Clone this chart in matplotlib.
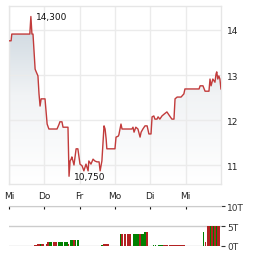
import matplotlib
matplotlib.use("Agg")
import matplotlib.pyplot as plt
import numpy as np
from matplotlib.colors import LinearSegmentedColormap

# price path, time in trading days since first "Mi"
t = [0.00, 0.06, 0.08, 0.59, 0.62, 0.65, 0.68, 0.74, 0.76, 0.82, 0.85, 0.88, 0.91, 0.96,
     1.02, 1.08, 1.13, 1.36, 1.42, 1.44, 1.50, 1.53, 1.67, 1.70, 1.73, 1.76, 1.78, 1.84,
     1.90, 1.95, 2.01, 2.07, 2.12, 2.18, 2.24, 2.26, 2.32, 2.38, 2.43, 2.49, 2.55, 2.58,
     2.63, 2.69, 2.72, 2.75, 2.77, 3.00, 3.03, 3.09, 3.11, 3.17, 3.20, 3.48, 3.51, 3.54,
     3.59, 3.65, 3.71, 3.74, 3.79, 3.85, 3.91, 3.96, 4.02, 4.05, 4.10, 4.13, 4.19, 4.22,
     4.27, 4.33, 4.39, 4.47, 4.53, 4.61, 4.67, 4.70, 4.76, 4.81, 4.87, 4.95, 4.98, 5.38,
     5.41, 5.49, 5.55, 5.66, 5.69, 5.72, 5.77, 5.83, 5.86, 5.88, 5.91, 5.94, 5.97, 6.00]
price = [13.76, 13.76, 13.91, 13.91, 14.30, 13.91, 13.91, 13.13, 13.09, 12.98, 12.58, 12.31, 12.47, 12.47,
         12.47, 11.91, 11.80, 11.80, 11.91, 11.96, 11.96, 11.84, 11.84, 10.75, 11.09, 11.13, 11.18, 11.00,
         11.36, 11.36, 11.02, 10.98, 10.87, 11.02, 10.87, 11.09, 11.02, 11.13, 11.09, 11.07, 11.07, 10.87,
         11.09, 11.87, 11.80, 11.58, 11.36, 11.36, 11.62, 11.64, 11.67, 11.91, 11.80, 11.80, 11.84, 11.73,
         11.84, 11.80, 11.62, 11.73, 11.80, 11.87, 11.87, 11.69, 11.69, 12.07, 12.09, 12.02, 12.02, 12.07,
         12.02, 12.09, 12.13, 12.18, 12.11, 12.02, 12.02, 12.47, 12.51, 12.51, 12.51, 12.58, 12.69, 12.69,
         12.76, 12.76, 12.64, 12.64, 12.91, 12.76, 12.91, 12.84, 13.02, 13.07, 12.91, 12.98, 12.91, 12.69]

days = ["Mi", "Do", "Fr", "Mo", "Di", "Mi"]
price_ticks = [11, 12, 13, 14]

# volume bars: start, end (days), volume in thousands, up day?
vol_start = [0.71, 0.79, 0.88, 0.91, 1.05, 1.08, 1.13, 1.25, 1.39, 1.56, 1.67, 1.73, 1.81, 1.87,
             1.93, 1.96, 2.60, 2.66, 3.14, 3.17, 3.26, 3.34, 3.51, 3.54, 3.68, 3.74, 3.82, 3.88,
             4.08, 4.13, 4.22, 4.36, 4.53, 5.49, 5.55, 5.60, 5.69, 5.72, 5.77, 5.80, 5.86, 5.89]
vol_end = [0.79, 0.88, 0.91, 0.99, 1.08, 1.13, 1.22, 1.36, 1.53, 1.67, 1.70, 1.81, 1.87, 1.90,
           1.95, 1.98, 2.66, 2.83, 3.17, 3.23, 3.31, 3.45, 3.54, 3.68, 3.74, 3.82, 3.88, 3.93,
           4.10, 4.16, 4.36, 4.50, 4.98, 5.52, 5.58, 5.69, 5.72, 5.77, 5.80, 5.86, 5.89, 5.97]
vol = [0.3, 0.6, 0.6, 0.6, 0.4, 1.0, 1.0, 1.0, 1.0, 1.0, 0.6, 1.5, 1.5, 1.5,
       1.5, 1.5, 0.3, 0.6, 3.0, 3.0, 3.0, 3.0, 3.0, 3.0, 3.0, 3.0, 3.5, 3.5,
       0.2, 0.2, 0.25, 0.25, 0.25, 3.5, 1.0, 5.0, 5.0, 5.0, 5.0, 5.0, 5.0, 5.0]
vol_up = [0, 0, 1, 0, 0, 0, 1, 0, 1, 1, 0, 1, 0, 1,
          1, 1, 1, 0, 1, 0, 0, 0, 1, 1, 0, 1, 1, 0,
          1, 1, 1, 0, 0, 1, 0, 0, 1, 0, 1, 0, 1, 0]
vol_ticks = [0, 5, 10]
vol_labels = ["0T", "5T", "10T"]

fs = 6.5
fig = plt.figure(figsize=(2.64, 2.55), dpi=100)
ax = fig.add_axes([0.034, 0.2745, 0.803, 0.698])
ax2 = fig.add_axes([0.034, 0.0314, 0.803, 0.155])

ymin, ymax = 10.578, 14.533

# gradient fill below the price line
poly = ax.fill_between(t, price, ymin, color="none", lw=0)
cmap = LinearSegmentedColormap.from_list("g", ["#ffffff", "#f1f3f5", "#c6d2db"])
grad = np.linspace(0, 1, 256).reshape(-1, 1)
im = ax.imshow(grad, extent=[0, 6, ymin, ymax], origin="lower", aspect="auto",
               cmap=cmap, zorder=0.5)
im.set_clip_path(poly.get_paths()[0], transform=ax.transData)

ax.plot(t, price, color="#c23b3b", lw=1.0, zorder=3)

imax = int(np.argmax(price))
imin = int(np.argmin(price))
ax.annotate(f"{price[imax]:.3f}".replace(".", ","), (t[imax], price[imax]),
            xytext=(5, 0), textcoords="offset pixels", va="center", ha="left",
            fontsize=fs, color="#111111", zorder=4)
ax.annotate(f"{price[imin]:.3f}".replace(".", ","), (t[imin], price[imin]),
            xytext=(5, 0), textcoords="offset pixels", va="center", ha="left",
            fontsize=fs, color="#111111", zorder=4)

ax.set_xlim(0, 6)
ax.set_ylim(ymin, ymax)
ax.set_xticks(range(len(days)))
ax.set_xticklabels(days)
ax.set_yticks(price_ticks)
ax.yaxis.tick_right()
ax.tick_params(axis="both", length=0, labelsize=fs, colors="#222222")
ax.tick_params(axis="x", pad=5)
ax.tick_params(axis="y", pad=4)
ax.set_axisbelow("line")
ax.grid(True, color="#ebebeb", lw=1)
for s in ax.spines.values():
    s.set_color("#e6e6e6")
    s.set_linewidth(1)

# volume panel
for s0, s1, v, up in zip(vol_start, vol_end, vol, vol_up):
    ax2.bar(s0, v, width=s1 - s0, align="edge", lw=0,
            color="#008000" if up else "#b22222", zorder=2)
ax2.set_xlim(0, 6)
ax2.set_ylim(0, 10)
ax2.set_yticks(vol_ticks)
ax2.set_yticklabels(vol_labels)
ax2.yaxis.tick_right()
ax2.xaxis.tick_top()
ax2.set_xticks(range(len(days)))
ax2.tick_params(axis="x", direction="in", length=2.5, width=0.8, colors="#111111",
                labeltop=False, labelbottom=False)
ax2.tick_params(axis="y", length=3, width=0.8, pad=1.5, labelsize=fs,
                colors="#333333")
ax2.grid(True, axis="y", color="#cccccc", lw=1, zorder=1)
ax2.set_axisbelow(True)
for k in ["left", "right", "bottom"]:
    ax2.spines[k].set_visible(False)
ax2.spines["top"].set_color("#cccccc")

fig.savefig("out.png", dpi=100)
